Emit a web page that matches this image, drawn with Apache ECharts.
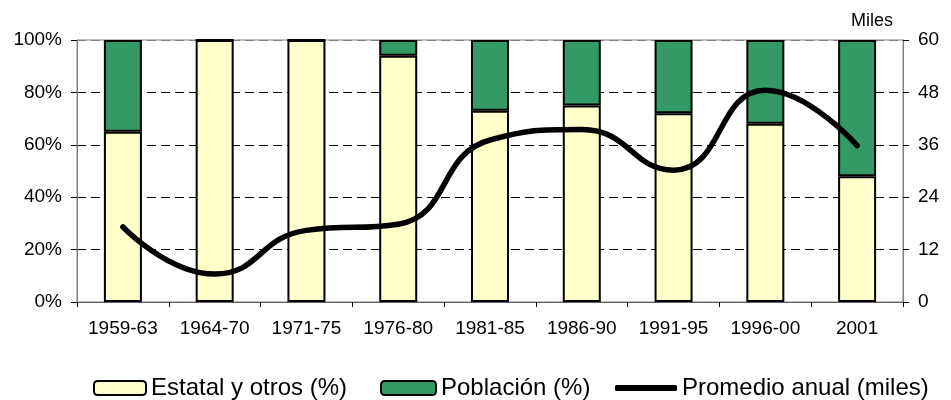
<!DOCTYPE html>
<html>
<head>
<meta charset="utf-8">
<script src="https://cdn.jsdelivr.net/npm/echarts@6/dist/echarts.min.js"></script>
<style>
  html, body { margin: 0; padding: 0; background: #fff; }
  #chart { width: 951px; height: 400px; }
</style>
</head>
<body>
<div id="chart"></div>
<script>
// periods on the x axis
const periods   = ['1959-63', '1964-70', '1971-75', '1976-80', '1981-85', '1986-90', '1991-95', '1996-00', '2001'];
// share of funding, percent
const estatal   = [65, 100, 100, 94, 73, 75, 72, 68, 48];
const poblacion = [35, 0, 0, 6, 27, 25, 28, 32, 52];
// yearly average, thousands
const promedio  = [17.2, 6.4, 16.4, 17.8, 37.1, 39.5, 30.2, 48.5, 35.8];

const FONT = 'Arial, "Liberation Sans", sans-serif';
const chart = echarts.init(document.getElementById('chart'), null, { renderer: 'canvas' });

const legendText = { color: '#000', fontSize: 24, fontFamily: FONT };

chart.setOption({
  backgroundColor: '#fff',
  animation: false,
  grid: {
    left: 77, right: 48, top: 40, bottom: 98,
    show: true, borderColor: '#808080', borderWidth: 1, backgroundColor: 'transparent',
  },
  legend: [
    { data: ['Estatal y otros (%)'], left: 93, top: 376, itemWidth: 52, itemHeight: 14, itemGap: 0, itemTextGap: 10, textStyle: legendText, padding: 0 },
    { data: ['Población (%)'], left: 380, top: 376, itemWidth: 55, itemHeight: 14, itemGap: 0, itemTextGap: 8, textStyle: legendText, padding: 0 },
    { data: [{ name: 'Promedio anual (miles)', icon: 'roundRect' }], left: 615, top: 376, itemWidth: 62, itemHeight: 6, itemGap: 0, itemTextGap: 3, textStyle: legendText, padding: 0 },
  ],
  xAxis: {
    type: 'category',
    data: periods,
    boundaryGap: true,
    axisLine: { lineStyle: { color: '#606060', width: 1 } },
    axisTick: { show: true, length: 5, lineStyle: { color: '#000' } },
    axisLabel: { color: '#000', fontSize: 19, fontFamily: FONT, margin: 17 },
    splitLine: { show: false },
  },
  yAxis: [
    {
      type: 'value', min: 0, max: 100, interval: 20, position: 'left',
      axisLine: { show: true, lineStyle: { color: '#808080' } },
      axisTick: { show: true, length: 6, lineStyle: { color: '#000' } },
      axisLabel: { color: '#000', fontSize: 19, fontFamily: FONT, margin: 15, formatter: '{value}%' },
      splitLine: {
        show: true,
        lineStyle: { type: [9, 5], width: 1, color: ['transparent', '#000', '#000', '#000', '#000', '#808080'] },
      },
    },
    {
      type: 'value', min: 0, max: 60, interval: 12, position: 'right',
      name: 'Miles', nameLocation: 'end', nameGap: 10,
      nameTextStyle: { color: '#000', fontSize: 18, fontFamily: FONT, align: 'right', padding: [0, 10, 0, 0] },
      axisLine: { show: true, lineStyle: { color: '#808080' } },
      axisTick: { show: true, length: 6, lineStyle: { color: '#000' } },
      axisLabel: { color: '#000', fontSize: 19, fontFamily: FONT, margin: 15 },
      splitLine: { show: false },
    },
  ],
  series: [
    {
      name: 'Estatal y otros (%)', type: 'bar', stack: 'pct', barWidth: 38,
      data: estatal,
      itemStyle: { color: '#FFFFCC', borderColor: '#000', borderWidth: 2 },
    },
    {
      name: 'Población (%)', type: 'bar', stack: 'pct', barWidth: 38,
      data: poblacion,
      itemStyle: { color: '#339966', borderColor: '#000', borderWidth: 2 },
    },
    {
      name: 'Promedio anual (miles)', type: 'line', yAxisIndex: 1,
      data: promedio, smooth: 0.5, showSymbol: false, symbol: 'none',
      lineStyle: { color: '#000', width: 5.5, cap: 'round' },
      itemStyle: { color: '#000' },
      z: 5,
    },
  ],
});
</script>
</body>
</html>
